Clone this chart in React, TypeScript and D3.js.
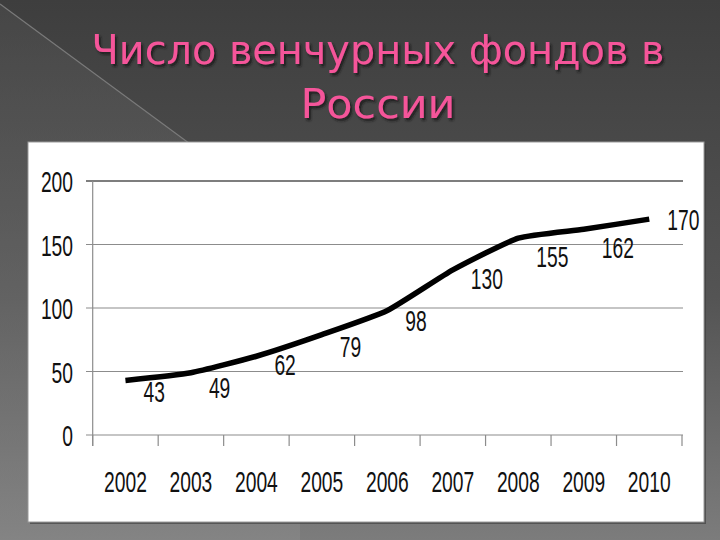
import React, { useRef, useEffect } from 'react'
import * as d3 from 'd3'

// data
const years = ['2002', '2003', '2004', '2005', '2006', '2007', '2008', '2009', '2010']
const funds = [43, 49, 62, 79, 98, 130, 155, 162, 170]
const yTicks = [0, 50, 100, 150, 200]
const titleLines = ['Число венчурных фондов в', 'России']

// vertical nudge of each data label (px, from its point)
const labelDy = [22, 25, 19, 22, 20, 19, 29, 29, 11]

const W = 720
const H = 540
const digitW = 10.7 // narrow Calibri-like digits

const App = () => {
    const ref = useRef<SVGSVGElement>(null)

    useEffect(() => {
        const svg = d3.select(ref.current)
        svg.selectAll('*').remove()

        // background
        const defs = svg.append('defs')
        const bg = defs.append('linearGradient')
            .attr('id', 'bg').attr('x1', 0).attr('y1', 0).attr('x2', 0).attr('y2', 1)
        bg.append('stop').attr('offset', '0%').attr('stop-color', '#3e3e3e')
        bg.append('stop').attr('offset', '55%').attr('stop-color', '#545454')
        bg.append('stop').attr('offset', '100%').attr('stop-color', '#7c7c7c')
        const side = defs.append('linearGradient')
            .attr('id', 'side').attr('x1', 0).attr('y1', 0).attr('x2', 0).attr('y2', 1)
        side.append('stop').attr('offset', '0%').attr('stop-color', '#4c4c4c')
        side.append('stop').attr('offset', '100%').attr('stop-color', '#8a8a8a')
        const shadow = defs.append('filter').attr('id', 'tshadow')
            .attr('x', '-5%').attr('y', '-20%').attr('width', '110%').attr('height', '140%')
        shadow.append('feDropShadow')
            .attr('dx', 2).attr('dy', 2.5).attr('stdDeviation', 0.8)
            .attr('flood-color', '#151515').attr('flood-opacity', 0.85)

        svg.append('rect').attr('width', W).attr('height', H).attr('fill', 'url(#bg)')
        svg.append('path')
            .attr('d', 'M0,4 L300,225 L300,540 L0,540 Z')
            .attr('fill', 'url(#side)').attr('opacity', 0.55)
        svg.append('line')
            .attr('x1', 0).attr('y1', 4).attr('x2', 300).attr('y2', 225)
            .attr('stroke', '#7a7a7a').attr('stroke-width', 1.2)

        // title
        const title = svg.append('g')
            .style('font-family', "'DejaVu Sans', 'Noto Sans', sans-serif")
            .style('font-size', '40px')
            .attr('text-anchor', 'middle')
            .attr('filter', 'url(#tshadow)')
        const tLens = [573, 155]
        titleLines.forEach((t, i) => {
            title.append('text')
                .attr('x', 378).attr('y', 64 + i * 54)
                .attr('textLength', tLens[i]).attr('lengthAdjust', 'spacingAndGlyphs')
                .attr('fill', '#f5559a')
                .text(t)
        })

        // chart panel
        svg.append('rect')
            .attr('x', 30).attr('y', 144).attr('width', 676).attr('height', 380)
            .attr('fill', '#3a3a3a').attr('opacity', 0.6)
        svg.append('rect')
            .attr('x', 28).attr('y', 142).attr('width', 676).attr('height', 380)
            .attr('fill', 'white').attr('stroke', '#9a9a9a').attr('stroke-width', 1)

        // scales
        const xScale = d3.scaleBand().domain(years).range([92.7, 682]).padding(0)
        const yScale = d3.scaleLinear().domain([0, 200]).range([435, 181])
        const cx = (d: string) => (xScale(d) as number) + xScale.bandwidth() / 2

        // grid lines
        const grid = svg.append('g')
        grid.selectAll('line')
            .data(yTicks)
            .enter().append('line')
            .attr('x1', 86).attr('x2', 683)
            .attr('y1', d => yScale(d)).attr('y2', d => yScale(d))
            .attr('stroke', d => (d === 200 ? '#7e7e7e' : '#8c8c8c'))
            .attr('stroke-width', d => (d === 200 ? 2 : 1.2))

        // y axis line
        svg.append('line')
            .attr('x1', 92.7).attr('x2', 92.7).attr('y1', yScale(200)).attr('y2', yScale(0) + 11)
            .attr('stroke', '#8c8c8c').attr('stroke-width', 1.2)

        // x tick marks at category boundaries
        const bounds = years.map(d => xScale(d) as number).concat([682])
        svg.append('g').selectAll('line')
            .data(bounds)
            .enter().append('line')
            .attr('x1', d => d).attr('x2', d => d)
            .attr('y1', yScale(0)).attr('y2', yScale(0) + 11)
            .attr('stroke', '#8c8c8c').attr('stroke-width', 1.2)

        const numFont = "'Liberation Sans', Arial, sans-serif"

        // y labels
        svg.append('g').selectAll('text')
            .data(yTicks)
            .enter().append('text')
            .attr('x', 73).attr('y', d => yScale(d) + 11)
            .attr('text-anchor', 'end')
            .attr('textLength', d => String(d).length * digitW)
            .attr('lengthAdjust', 'spacingAndGlyphs')
            .style('font-family', numFont).style('font-size', '30px')
            .attr('fill', '#111')
            .text(d => d)

        // x labels
        svg.append('g').selectAll('text')
            .data(years)
            .enter().append('text')
            .attr('x', d => cx(d)).attr('y', 492)
            .attr('text-anchor', 'middle')
            .attr('textLength', d => d.length * digitW)
            .attr('lengthAdjust', 'spacingAndGlyphs')
            .style('font-family', numFont).style('font-size', '30px')
            .attr('fill', '#111')
            .text(d => d)

        // line
        const line = d3.line<number>()
            .x((d, i) => cx(years[i]))
            .y(d => yScale(d))
            .curve(d3.curveCardinal.tension(0.5))
        svg.append('path')
            .datum(funds)
            .attr('d', line)
            .attr('fill', 'none')
            .attr('stroke', 'black')
            .attr('stroke-width', 5.5)
            .attr('stroke-linejoin', 'round')

        // data labels
        svg.append('g').selectAll('text')
            .data(funds)
            .enter().append('text')
            .attr('x', (d, i) => cx(years[i]) + 18)
            .attr('y', (d, i) => yScale(d) + labelDy[i])
            .attr('textLength', d => String(d).length * digitW)
            .attr('lengthAdjust', 'spacingAndGlyphs')
            .style('font-family', numFont).style('font-size', '30px')
            .attr('fill', '#111')
            .text(d => d)
    }, [])

    return (
        <div style={{ position: 'absolute', left: 0, top: 0 }}>
            <svg ref={ref} width={W} height={H} style={{ display: 'block' }}></svg>
        </div>
    )
}

export default App
